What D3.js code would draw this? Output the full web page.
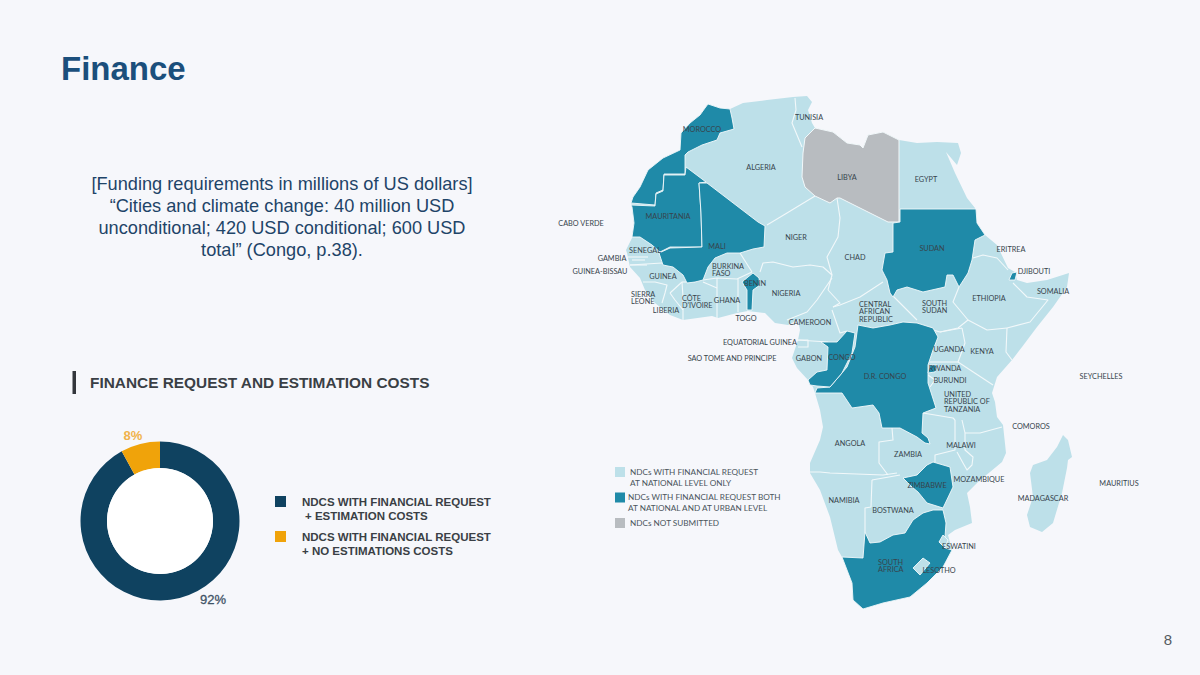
<!DOCTYPE html>
<html>
<head>
<meta charset="utf-8">
<title>Finance</title>
<script src="https://cdn.jsdelivr.net/npm/d3@7"></script>
<style>
  html, body { margin: 0; padding: 0; background: #f6f7fb; }
  text { font-family: "Liberation Sans", Arial, sans-serif; }
  .country-label, .map-legend { font-family: Lato, "Open Sans", sans-serif; }
</style>
</head>
<body>
<svg id="chart" width="1200" height="675"></svg>
<script>
// donut values
var donutLabels = ["NDCS WITH FINANCIAL REQUEST|+ ESTIMATION COSTS", "NDCS WITH FINANCIAL REQUEST|+ NO ESTIMATIONS COSTS"];
var donutValues = [92, 8];

var quoteLines = [
  "[Funding requirements in millions of US dollars]",
  "\u201CCities and climate change: 40 million USD",
  "unconditional; 420 USD conditional; 600 USD",
  "total\u201D (Congo, p.38)."
];

var mapLegendLabels = [
  "NDCs WITH FINANCIAL REQUEST|AT NATIONAL LEVEL ONLY",
  "NDCs WITH FINANCIAL REQUEST BOTH|AT NATIONAL AND AT URBAN LEVEL",
  "NDCs NOT SUBMITTED"
];

// outlines, in map grid units
var africa = [[108,14],[120,18],[130,19],[143,13],[167,10],[193,7],[207,6],[212,12],[208,20],[212,33],[215,38],[233,42],[247,53],[260,55],[263,58],[268,45],[283,42],[299,50],[317,53],[337,52],[358,53],[361,63],[357,75],[346,62],[355,83],[367,108],[375,118],[377,133],[385,145],[397,155],[408,178],[415,182],[417,190],[427,193],[447,190],[469,183],[467,197],[453,217],[437,237],[422,257],[412,270],[397,287],[392,303],[395,312],[397,327],[403,335],[406,363],[402,372],[390,382],[380,390],[367,403],[370,417],[372,433],[355,440],[348,445],[352,460],[343,477],[327,493],[310,507],[283,513],[263,519],[253,510],[252,493],[242,467],[238,460],[230,427],[220,400],[210,383],[210,373],[220,350],[223,337],[220,320],[215,303],[213,297],[208,290],[197,278],[192,268],[198,250],[200,240],[198,230],[188,235],[175,233],[165,223],[148,221],[137,223],[118,228],[112,226],[83,230],[70,225],[55,213],[45,200],[40,188],[30,177],[27,163],[26,160],[32,148],[34,133],[32,117],[31,113],[33,107],[40,97],[48,80],[63,68],[80,60],[81,43],[90,33],[100,25],[105,18]];
var madagascar = [[463,345],[468,350],[472,367],[468,370],[467,378],[462,403],[453,433],[442,442],[430,437],[427,425],[433,407],[430,383],[433,375],[447,370],[457,357]];
var lesotho = [[323,468],[330,473],[320,485],[313,478]];
var eswatini = [[343,445],[348,450],[345,458],[339,452]];

var libya = [[215,38],[233,42],[247,53],[260,55],[263,58],[268,45],[283,42],[299,50],[299,132],[288,132],[240,108],[237,108],[230,113],[215,106],[205,97],[202,87],[203,63],[205,48]];

var morocco = [[108,14],[120,18],[130,19],[132,28],[134,39],[120,43],[117,50],[102,55],[88,62],[85,65],[85,77],[85,84],[64,84],[63,100],[56,103],[55,115],[31,113],[33,107],[40,97],[48,80],[63,68],[80,60],[81,43],[90,33],[100,25],[105,18]];
var mauritania = [[31,115],[55,116],[56,104],[63,101],[64,85],[85,85],[86,77],[106,92],[99,93],[101,123],[102,157],[70,157],[60,162],[52,155],[40,147],[32,147],[34,133],[32,117]];
var mali = [[99,93],[107,93],[158,132],[165,136],[164,157],[153,159],[140,163],[127,163],[115,168],[108,177],[103,190],[95,192],[87,193],[83,185],[73,177],[63,175],[59,163],[70,158],[102,157],[101,123]];
var benin = [[153,183],[159,188],[160,195],[153,200],[152,220],[147,220],[147,200],[142,192],[148,187]];
var sudan = [[300,119],[376,119],[377,133],[385,145],[375,150],[372,170],[368,183],[359,197],[353,185],[347,185],[345,197],[323,202],[307,197],[297,200],[293,207],[290,203],[287,190],[282,180],[285,163],[293,162],[293,133],[300,132]];
var djibouti = [[417,182],[412,183],[409,190],[415,190],[416,186]];
var drCongo = [[258,235],[273,238],[290,235],[303,232],[317,233],[333,238],[338,247],[333,260],[328,275],[328,293],[336,318],[323,323],[322,343],[328,348],[330,354],[325,353],[317,347],[300,338],[282,338],[279,323],[273,315],[252,318],[242,303],[215,303],[217,298],[230,297],[247,277],[255,257]];
var congo = [[247,241],[255,243],[252,263],[242,283],[230,297],[217,296],[210,295],[208,290],[217,282],[227,280],[228,257],[221,252],[237,252]];
var rwanda = [[330,275],[337,275],[335,282],[328,283]];
var zimbabwe = [[303,388],[317,385],[327,375],[333,372],[350,377],[353,397],[343,418],[327,413],[318,402],[312,397]];
var southAfrica = [[333,420],[343,420],[346,433],[345,447],[339,452],[345,458],[352,460],[343,477],[327,493],[310,507],[283,513],[263,519],[253,510],[252,493],[242,467],[263,468],[265,442],[270,453],[280,452],[293,445],[305,443],[313,430],[323,423]];

var urbanCountries = [morocco, mauritania, mali, benin, sudan, djibouti, drCongo, congo, rwanda, zimbabwe, southAfrica];

// white border lines between the light countries
var borders = [
  [[195,8],[196,20],[192,33],[202,57]],
  [[215,106],[187,123],[167,135]],
  [[237,108],[240,128],[238,147],[227,167],[232,185],[228,200]],
  [[140,163],[152,182]],
  [[160,182],[163,173],[173,172],[193,177],[210,175],[223,177],[232,185]],
  [[232,188],[217,210],[207,222],[187,230]],
  [[103,190],[117,188],[137,189],[152,182]],
  [[117,188],[117,210],[117,228]],
  [[138,189],[138,222]],
  [[103,192],[117,198]],
  [[82,192],[70,203]],
  [[70,203],[75,210],[83,220],[83,230]],
  [[82,192],[95,192]],
  [[82,192],[83,207],[83,220]],
  [[30,175],[47,175]],
  [[43,192],[55,192],[67,195],[65,203],[62,213]],
  [[28,167],[48,167]],
  [[32,170],[45,170]],
  [[30,175],[62,173]],
  [[228,200],[240,213],[233,217]],
  [[233,217],[240,215],[260,207],[283,192]],
  [[232,220],[240,243],[247,241]],
  [[197,250],[228,252]],
  [[197,250],[208,250],[208,257],[198,257]],
  [[292,205],[317,230]],
  [[359,197],[353,212],[368,230],[358,238],[340,242],[333,240]],
  [[362,238],[365,253],[358,272]],
  [[340,242],[362,238]],
  [[328,272],[358,272]],
  [[368,230],[387,240],[407,238]],
  [[407,238],[406,262],[412,270]],
  [[358,272],[393,295]],
  [[413,193],[427,207],[448,210],[430,232],[407,238]],
  [[373,168],[383,165],[397,168],[408,180]],
  [[328,285],[335,290],[330,297]],
  [[210,382],[220,382],[230,383],[283,385],[297,383]],
  [[292,338],[293,350],[279,352],[279,373],[288,385]],
  [[272,390],[271,417],[265,418],[265,442]],
  [[272,390],[300,385]],
  [[323,323],[353,328],[355,330]],
  [[355,330],[355,360],[335,365],[335,374]],
  [[362,330],[365,343],[365,360],[373,367],[372,375],[367,380],[363,373],[357,362]],
  [[365,343],[380,343],[402,337]]
];

var labelNames = ["TUNISIA","ALGERIA","LIBYA","EGYPT","MOROCCO","MAURITANIA","MALI","NIGER","CHAD","SUDAN","ERITREA","DJIBOUTI","SOMALIA","ETHIOPIA","CABO VERDE","SENEGAL","GAMBIA","GUINEA-BISSAU","GUINEA","GHANA","BENIN","NIGERIA","TOGO","LIBERIA","CAMEROON","EQUATORIAL GUINEA","SAO TOME AND PRINCIPE","GABON","CONGO","D.R. CONGO","UGANDA","KENYA","RWANDA","BURUNDI","SEYCHELLES","COMOROS","ANGOLA","ZAMBIA","MALAWI","ZIMBABWE","MOZAMBIQUE","MAURITIUS","MADAGASCAR","NAMIBIA","BOSTWANA","ESWATINI","LESOTHO"];
var labelSpots = [[209,27],[161,77],[247,87],[326,89],[102,39],[68,126],[117,156],[196,147],[255,167],[332,158],[411,159],[434,181],[453,201],[389,208],[-19,133],[45,160],[12,168],[0,181],[63,186],[127,210],[155,193],[186,203],[146,228],[66,220],[210,232],[160,252],[132,268],[209,268],[242,267],[285,286],[349,259],[382,261],[345,278],[350,290],[501,286],[431,336],[250,353],[308,364],[361,355],[327,395],[379,389],[519,393],[443,408],[244,410],[293,420],[359,456],[339,480]];

// names set on several lines, left aligned
var stackedNames = ["BURKINA|FASO","SIERRA|LEONE","C\u00D4TE|D'IVOIRE","CENTRAL|AFRICAN|REPUBLIC","SOUTH|SUDAN","UNITED|REPUBLIC OF|TANZANIA","SOUTH|AFRICA"];
var stackedSpots = [[112,176],[31,204],[82,208],[259,214],[322,213],[344,304],[278,472]];

var W = 1200, H = 675;
var svg = d3.select("#chart");

svg.append("rect").attr("width", W).attr("height", H).attr("fill", "#f6f7fb");

svg.append("text").attr("x", 61).attr("y", 80)
  .attr("font-size", 33).attr("font-weight", "bold").attr("fill", "#1b4f7c")
  .text("Finance");

svg.append("g").selectAll("text").data(quoteLines).enter().append("text")
  .attr("x", 282)
  .attr("y", function(d, i) { return 190 + i * 21.9; })
  .attr("text-anchor", "middle")
  .attr("font-size", 18.2).attr("fill", "#1e4468")
  .text(function(d) { return d; });

//---------------- donut
svg.append("rect").attr("x", 72.5).attr("y", 371).attr("width", 3.5).attr("height", 23).attr("fill", "#33363c");
svg.append("text").attr("x", 90).attr("y", 388)
  .attr("font-size", 15.4).attr("font-weight", "bold").attr("fill", "#3a3f45")
  .text("FINANCE REQUEST AND ESTIMATION COSTS");

var donutColor = d3.scaleOrdinal().domain(donutValues).range(["#0f4260", "#f0a30a"]);
var pie = d3.pie().sort(null);
var arc = d3.arc().innerRadius(53).outerRadius(79.5);
var donut = svg.append("g").attr("transform", "translate(160,521)");
donut.selectAll("path").data(pie(donutValues)).enter().append("path")
  .attr("d", arc)
  .attr("fill", function(d) { return donutColor(d.data); });
donut.append("circle").attr("r", 53).attr("fill", "#ffffff");

svg.append("text").attr("x", 133).attr("y", 440).attr("text-anchor", "middle")
  .attr("font-size", 13).attr("font-weight", "bold").attr("fill", "#f0b24a")
  .text(donutValues[1] + "%");
svg.append("text").attr("x", 213).attr("y", 604).attr("text-anchor", "middle")
  .attr("font-size", 13).attr("fill", "#3f5266")
  .attr("stroke", "#3f5266").attr("stroke-width", 0.3)
  .text(donutValues[0] + "%");

var donutLegend = svg.append("g").selectAll("g").data(donutLabels).enter().append("g")
  .attr("transform", function(d, i) { return "translate(275," + (496 + i * 35) + ")"; });
donutLegend.append("rect").attr("width", 11).attr("height", 11)
  .attr("fill", function(d, i) { return donutColor(donutValues[i]); });
donutLegend.each(function(d, i) {
  var parts = d.split("|");
  d3.select(this).selectAll("text").data(parts).enter().append("text")
    .attr("x", function(p, j) { return (i == 0 && j == 1) ? 30 : 27; })
    .attr("y", function(p, j) { return 9.5 + j * 14; })
    .attr("font-size", 11.5).attr("font-weight", "bold").attr("fill", "#3a3f45")
    .text(function(p) { return p; });
});

//---------------- map
var mapX = d3.scaleLinear().domain([0, 480]).range([600, 1080]);
var mapY = d3.scaleLinear().domain([0, 540]).range([90, 630]);

var closedLine = d3.line()
  .x(function(d) { return mapX(d[0]); })
  .y(function(d) { return mapY(d[1]); })
  .curve(d3.curveLinearClosed);
var openLine = d3.line()
  .x(function(d) { return mapX(d[0]); })
  .y(function(d) { return mapY(d[1]); });

var lightColor = "#bde0e9", urbanColor = "#1f8aa8", greyColor = "#b8bcc0", borderColor = "#f2f8fa";
var map = svg.append("g");

map.selectAll("path.land").data([africa, madagascar]).enter().append("path")
  .attr("class", "land").attr("d", closedLine).attr("fill", lightColor);

map.selectAll("path.border").data(borders).enter().append("path")
  .attr("class", "border").attr("d", openLine)
  .attr("fill", "none").attr("stroke", borderColor).attr("stroke-width", 1.1)
  .attr("stroke-linejoin", "round");

map.append("path").datum(libya).attr("d", closedLine).attr("fill", greyColor)
  .attr("stroke", borderColor).attr("stroke-width", 1);

map.selectAll("path.urban").data(urbanCountries).enter().append("path")
  .attr("class", "urban").attr("d", closedLine).attr("fill", urbanColor)
  .attr("stroke", borderColor).attr("stroke-width", 0.9).attr("stroke-linejoin", "round");

map.selectAll("path.enclave").data([lesotho, eswatini]).enter().append("path")
  .attr("class", "enclave").attr("d", closedLine).attr("fill", lightColor)
  .attr("stroke", borderColor).attr("stroke-width", 0.9);

map.selectAll("text.country-label").data(labelNames).enter().append("text")
  .attr("class", "country-label")
  .attr("x", function(d, i) { return mapX(labelSpots[i][0]); })
  .attr("y", function(d, i) { return mapY(labelSpots[i][1]) + 2.6; })
  .attr("text-anchor", "middle")
  .attr("font-size", 7.3).attr("fill", "#37444c")
  .text(function(d) { return d; });

stackedNames.forEach(function(name, i) {
  name.split("|").forEach(function(part, j) {
    map.append("text").attr("class", "country-label")
      .attr("x", mapX(stackedSpots[i][0]))
      .attr("y", mapY(stackedSpots[i][1]) + 2.6 + j * 7.5)
      .attr("font-size", 7.3).attr("fill", "#37444c")
      .text(part);
  });
});

// map legend
var legendColors = [lightColor, urbanColor, greyColor];
var legendY = d3.scalePoint().domain(d3.range(3)).range([467, 518]);
var legendTextX = [630, 628, 630];
mapLegendLabels.forEach(function(label, i) {
  svg.append("rect").attr("x", 615).attr("y", legendY(i)).attr("width", 10).attr("height", 10)
    .attr("fill", legendColors[i]);
  label.split("|").forEach(function(part, j) {
    svg.append("text").attr("class", "map-legend")
      .attr("x", legendTextX[i]).attr("y", legendY(i) + 7.5 + j * 11)
      .attr("font-size", 8.2).attr("fill", "#4a555c")
      .text(part);
  });
});

svg.append("text").attr("x", 1172).attr("y", 645).attr("text-anchor", "end")
  .attr("font-size", 15).attr("fill", "#555b60").text("8");
</script>
</body>
</html>
